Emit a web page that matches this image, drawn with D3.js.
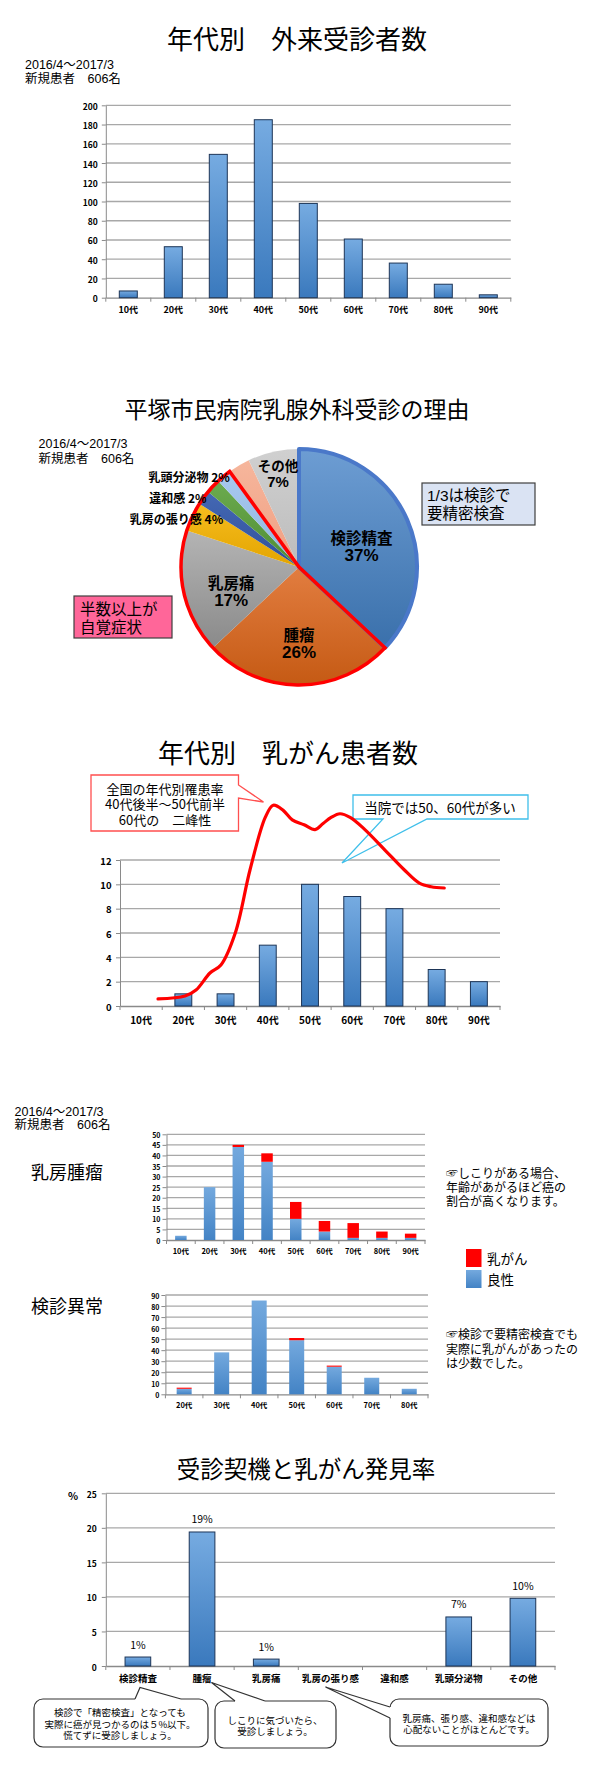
<!DOCTYPE html>
<html><head><meta charset="utf-8">
<script src="https://d3js.org/d3.v7.min.js"></script>
<style>
html,body{margin:0;padding:0;background:#fff;}
svg{display:block;}
</style></head><body>
<svg id="c" width="600" height="1773" viewBox="0 0 600 1773"></svg>
<script>
// ===== DATA =====
const ageGroups = ["10代","20代","30代","40代","50代","60代","70代","80代","90代"];
const outpatientCounts = [7, 53, 149, 185, 98, 61, 36, 14, 3];
const outpatientTicks = [0,20,40,60,80,100,120,140,160,180,200];

const reasonNames = ["検診精査","腫瘤","乳房痛","乳房の張り感","違和感","","乳頭分泌物","","その他"];
const reasonPercents = [37, 26, 17, 4, 2, 2, 2, 3, 7];

const cancerCounts = [0, 1, 1, 5, 10, 9, 8, 3, 2];
const cancerTicks = [0,2,4,6,8,10,12];
const nationalAge  = [19, 25.4, 28, 31.3, 33.9, 37.3, 40.8, 44.4, 46.3, 48.6, 50.8, 53.6, 56.2, 58.1, 60, 62.1, 64.5, 68, 72.8, 77.3, 80.9, 83.7, 86.8];
const nationalRate = [0.58, 0.82, 1.31, 2.71, 3.37, 6.0, 11.2, 15.5, 16.5, 16.1, 15.3, 14.9, 14.5, 15.0, 15.5, 15.8, 15.5, 14.5, 12.8, 11.2, 10.1, 9.8, 9.7];

const massBenign = [2, 25, 44, 37, 10, 4, 1, 1, 1];
const massCancer = [0, 0, 1, 4, 8, 5, 7, 3, 2];
const massTicks = [0,5,10,15,20,25,30,35,40,45,50];

const screenAgeGroups = ["20代","30代","40代","50代","60代","70代","80代"];
const screenBenign = [5, 38, 85, 49, 25, 15, 5];
const screenCancer = [1, 0, 0, 2, 1, 0, 0];
const screenTicks = [0,10,20,30,40,50,60,70,80,90];

const triggerNames = ["検診精査","腫瘤","乳房痛","乳房の張り感","違和感","乳頭分泌物","その他"];
const detectionRates = [1.3, 19.4, 1.0, 0, 0, 7.1, 9.8];
const detectionLabels = ["1%","19%","1%","","","7%","10%"];
const detectionTicks = [0,5,10,15,20,25];

// ===== STYLE CONFIG =====
const FONT = '"Noto Sans CJK JP","Noto Sans",sans-serif';
const LFONT = '"Liberation Sans","Noto Sans CJK JP",sans-serif';
const sliceTop = ["#6d9dd3","#e27d40","#b4b4b4","#f6bd1f","#4468b4","#6cab4f","#a9c9ee","#f6b69c","#d0d0d0"];
const sliceBot = ["#3a70ab","#c55a14","#8a8a8a","#e3a400","#30509a","#4e8c33","#8fb5e2","#ef9f82","#bcbcbc"];

const svg = d3.select("#c");
svg.append("rect").attr("width",600).attr("height",1773).attr("fill","#fff");
const defs = svg.append("defs");
function grad(id, c0, c1){
  const g = defs.append("linearGradient").attr("id",id).attr("x1",0).attr("y1",0).attr("x2",0).attr("y2",1);
  g.append("stop").attr("offset",0).attr("stop-color",c0);
  g.append("stop").attr("offset",1).attr("stop-color",c1);
}
grad("barG","#76abe1","#3a79bd");
grad("stkG","#74a9de","#4383c5");
sliceTop.forEach((c,i)=>grad("pie"+i, c, sliceBot[i]));

// single-line or multi-line text block (one <text>, one <tspan> per line)
function block(x, ys, lines, size, o = {}) {
  const t = svg.append("text").attr("font-family",o.font||FONT).attr("font-size",size)
    .attr("font-weight",o.bold?"bold":"normal").attr("text-anchor",o.anchor||"start")
    .attr("fill",o.fill||"#000");
  [].concat(lines).forEach((s,i)=>{
    const sp = t.append("tspan").attr("x",x).attr("y",[].concat(ys)[i]).attr("dominant-baseline","central").text(s);
    if (o.sizes) sp.attr("font-size",o.sizes[i]);
    if (o.fonts) sp.attr("font-family",o.fonts[i]);
  });
  return t;
}

function frame(cfg) {
  const {cats,x0,x1,yTop,yBot,ticks,tickSize,xSize,xGap,yGap} = cfg;
  const x = d3.scaleBand().domain(cats).range([x0,x1]).paddingInner(0.6).paddingOuter(0.3);
  const y = d3.scaleLinear().domain([0, d3.max(ticks)]).range([yBot,yTop]);
  const g = svg.append("g");
  g.selectAll(".grid").data(ticks.filter(t=>t>0)).join("line").attr("class","grid")
    .attr("x1",x0).attr("x2",x1).attr("y1",d=>y(d)).attr("y2",d=>y(d))
    .attr("stroke","#a8a8a8").attr("stroke-width",1.3);
  const ya = g.append("g").attr("transform",`translate(${x0},0)`)
    .call(d3.axisLeft(y).tickValues(ticks).tickSize(4).tickSizeOuter(0).tickPadding(yGap));
  ya.select(".domain").attr("stroke","#8a8a8a");
  ya.selectAll(".tick line").attr("stroke","#8a8a8a");
  ya.selectAll(".tick text").attr("font-family",FONT).attr("font-size",tickSize).attr("font-weight","bold")
    .attr("fill","#000").attr("dy",null).attr("dominant-baseline","central");
  const xa = g.append("g").attr("transform",`translate(0,${yBot})`)
    .call(d3.axisBottom(x).tickSize(0).tickSizeOuter(0).tickPadding(0));
  xa.select(".domain").attr("stroke","#8a8a8a").attr("stroke-width",1.3);
  xa.selectAll(".tick text").attr("font-family",FONT).attr("font-size",xSize).attr("font-weight","bold")
    .attr("fill","#000").attr("dy",null).attr("y",xGap).attr("dominant-baseline","central");
  g.selectAll(".btick").data(d3.range(cats.length+1)).join("line").attr("class","btick")
    .attr("x1",i=>x0 + i*x.step()).attr("x2",i=>x0 + i*x.step())
    .attr("y1",yBot).attr("y2",yBot+4).attr("stroke","#8a8a8a");
  const bars = svg.append("g");
  return {x,y,g,bars};
}

// ===== CHART 1 =====
block(297, 37, "年代別　外来受診者数", 26, {anchor:"middle"});
block(25, [65,79], ["2016/4～2017/3","新規患者　606名"], 12.5, {font:LFONT});
const c1 = frame({cats:ageGroups, x0:105.8, x1:510.8, yTop:105.3, yBot:297.7, ticks:outpatientTicks, tickSize:8.5, xSize:9, xGap:11.5, yGap:4});
c1.bars.selectAll("rect").data(outpatientCounts).join("rect")
  .attr("x",(d,i)=>c1.x(ageGroups[i])).attr("width",c1.x.bandwidth())
  .attr("y",d=>c1.y(d)).attr("height",d=>c1.y(0)-c1.y(d))
  .attr("fill","url(#barG)").attr("stroke","#1d3557").attr("stroke-width",1);

// ===== CHART 2 (pie) =====
block(297, 408, "平塚市民病院乳腺外科受診の理由", 23, {anchor:"middle"});
block(38.5, [444,459], ["2016/4～2017/3","新規患者　606名"], 12.5, {font:LFONT});
const pcx = 299, pcy = 567, PR = 118;
const pg = svg.append("g").attr("transform",`translate(${pcx},${pcy})`);
const arcs = d3.pie().sort(null).value(d=>d)(reasonPercents);
const arc = d3.arc().innerRadius(0).outerRadius(PR);
pg.selectAll("path.slice").data(arcs).join("path").attr("class","slice")
  .attr("d",arc).attr("fill",(d,i)=>`url(#pie${i})`);
pg.append("path").attr("d",arc(arcs[0])).attr("fill","none").attr("stroke","#4a78c9").attr("stroke-width",4).attr("stroke-linejoin","round");
pg.append("path").attr("d",arc({startAngle:arcs[1].startAngle,endAngle:arcs[6].endAngle,padAngle:0}))
  .attr("fill","none").attr("stroke","#ff0000").attr("stroke-width",3.5).attr("stroke-linejoin","miter");

const bigLabels = [{i:0,r:66,da:5,size:15.5,gap:9.5},{i:1,r:76,da:0,size:15.5,gap:9.5},{i:2,r:72,da:-7,size:15.5,gap:9.5},{i:8,r:96,da:0,size:13.5,gap:8.5}];
bigLabels.forEach(L=>{
  const a = (arcs[L.i].startAngle+arcs[L.i].endAngle)/2 + L.da*Math.PI/180;
  const x = pcx + L.r*Math.sin(a), y = pcy - L.r*Math.cos(a);
  block(x, [y-L.gap, y+L.gap], [reasonNames[L.i], reasonPercents[L.i]+"%"], L.size,
    {bold:true, anchor:"middle", sizes:[L.size, L.size+1.5], fonts:[FONT, LFONT]});
});
const smallLabels = [{i:3,dx:31,dy:2},{i:4,dx:3,dy:0},{i:6,dx:6,dy:0}];
smallLabels.forEach(L=>{
  const a = (arcs[L.i].startAngle+arcs[L.i].endAngle)/2;
  const x = pcx + PR*Math.sin(a) + L.dx, y = pcy - PR*Math.cos(a) + L.dy;
  block(x, y, reasonNames[L.i]+" "+reasonPercents[L.i]+"%", 12, {bold:true,anchor:"end"});
});
svg.append("rect").attr("x",422).attr("y",483).attr("width",113).attr("height",42)
  .attr("fill","#dae3f3").attr("stroke","#3f3f3f").attr("stroke-width",1.2);
block(427, [495,513], ["1/3は検診で","要精密検査"], 15.5, {font:LFONT});
svg.append("rect").attr("x",74).attr("y",596).attr("width",98).attr("height",42)
  .attr("fill","#ff6699").attr("stroke","#3f3f3f").attr("stroke-width",1.2);
block(80, [609,627], ["半数以上が","自覚症状"], 15.5, {font:LFONT});

// ===== CHART 3 =====
block(288, 751, "年代別　乳がん患者数", 26, {anchor:"middle"});
const c3 = frame({cats:ageGroups, x0:120, x1:500, yTop:860, yBot:1006, ticks:cancerTicks, tickSize:9.5, xSize:10, xGap:13, yGap:4.5});
c3.bars.selectAll("rect").data(cancerCounts).join("rect")
  .attr("x",(d,i)=>c3.x(ageGroups[i])).attr("width",c3.x.bandwidth())
  .attr("y",d=>c3.y(d)).attr("height",d=>c3.y(0)-c3.y(d))
  .attr("fill","url(#barG)").attr("stroke","#1d3557").attr("stroke-width",d=>d>0?1:0);
svg.append("path").attr("d","M91,775H238.5V785L263.5,802L238.5,798V831H91Z")
  .attr("fill","#fff").attr("stroke","#ff4f4f").attr("stroke-width",1.3);
block(165, [788,803.5,819], ["全国の年代別罹患率","40代後半～50代前半","60代の　二峰性"], 13, {anchor:"middle"});
svg.append("path").attr("d","M353,795H528V819H427L342,863L383,819H353Z")
  .attr("fill","#fff").attr("stroke","#3fbfea").attr("stroke-width",1.3);
block(440, 807, "当院では50、60代が多い", 13.5, {anchor:"middle"});
const bw3 = c3.x.bandwidth()/2;
const ageX = d3.scaleLinear().domain([15,95]).range([c3.x(ageGroups[0])+bw3, c3.x(ageGroups[8])+bw3]);
svg.append("path").datum(nationalRate)
  .attr("d", d3.line().x((d,i)=>ageX(nationalAge[i])).y(d=>c3.y(d)).curve(d3.curveCatmullRom.alpha(0.5)))
  .attr("fill","none").attr("stroke","#ff0000").attr("stroke-width",3.2).attr("stroke-linecap","round");

// ===== CHART 4 =====
block(14.6, [1112,1125], ["2016/4～2017/3","新規患者　606名"], 12.5, {font:LFONT});
block(31, 1171, "乳房腫瘤", 18);
const c4 = frame({cats:ageGroups, x0:166.5, x1:425, yTop:1134.3, yBot:1240, ticks:massTicks, tickSize:7, xSize:7.5, xGap:10, yGap:2});
c4.bars.selectAll("rect.b").data(massBenign).join("rect").attr("class","b")
  .attr("x",(d,i)=>c4.x(ageGroups[i])).attr("width",c4.x.bandwidth())
  .attr("y",d=>c4.y(d)).attr("height",d=>c4.y(0)-c4.y(d)).attr("fill","url(#stkG)");
c4.bars.selectAll("rect.c").data(massCancer).join("rect").attr("class","c")
  .attr("x",(d,i)=>c4.x(ageGroups[i])).attr("width",c4.x.bandwidth())
  .attr("y",(d,i)=>c4.y(d+massBenign[i])).attr("height",(d,i)=>c4.y(massBenign[i])-c4.y(d+massBenign[i])).attr("fill","#ff0000");
block(446, [1172,1186,1200], ["☞しこりがある場合、","年齢があがるほど癌の","割合が高くなります。"], 12);
svg.append("rect").attr("x",466).attr("y",1249).attr("width",15.5).attr("height",18).attr("fill","#ff0000");
svg.append("rect").attr("x",466).attr("y",1270).attr("width",15.5).attr("height",18).attr("fill","url(#stkG)");
block(487, [1258,1279], ["乳がん","良性"], 13.5);

// ===== CHART 5 =====
block(31, 1305, "検診異常", 18);
const c5 = frame({cats:screenAgeGroups, x0:165.4, x1:428, yTop:1295, yBot:1394.3, ticks:screenTicks, tickSize:7, xSize:7.5, xGap:10, yGap:2});
c5.bars.selectAll("rect.b").data(screenBenign).join("rect").attr("class","b")
  .attr("x",(d,i)=>c5.x(screenAgeGroups[i])).attr("width",c5.x.bandwidth())
  .attr("y",d=>c5.y(d)).attr("height",d=>c5.y(0)-c5.y(d)).attr("fill","url(#stkG)");
c5.bars.selectAll("rect.c").data(screenCancer).join("rect").attr("class","c")
  .attr("x",(d,i)=>c5.x(screenAgeGroups[i])).attr("width",c5.x.bandwidth())
  .attr("y",(d,i)=>c5.y(d+screenBenign[i])).attr("height",(d,i)=>c5.y(screenBenign[i])-c5.y(d+screenBenign[i])).attr("fill","#ff0000");
block(446, [1333,1348,1362], ["☞検診で要精密検査でも","実際に乳がんがあったの","は少数でした。"], 12);

// ===== CHART 6 =====
block(306, 1468, "受診契機と乳がん発見率", 23.5, {anchor:"middle"});
block(73, 1495, "%", 10.5, {bold:true, anchor:"middle"});
const c6 = frame({cats:triggerNames, x0:105.8, x1:555, yTop:1493.3, yBot:1666, ticks:detectionTicks, tickSize:8.5, xSize:9.5, xGap:11.7, yGap:5});
c6.bars.selectAll("rect").data(detectionRates).join("rect")
  .attr("x",(d,i)=>c6.x(triggerNames[i])).attr("width",c6.x.bandwidth())
  .attr("y",d=>c6.y(d)).attr("height",d=>c6.y(0)-c6.y(d))
  .attr("fill","url(#barG)").attr("stroke","#1d3557").attr("stroke-width",d=>d>0?1:0);
c6.bars.selectAll("text").data(detectionRates).join("text")
  .attr("x",(d,i)=>c6.x(triggerNames[i])+c6.x.bandwidth()/2).attr("y",d=>c6.y(d)-13)
  .attr("text-anchor","middle").attr("dominant-baseline","central")
  .attr("font-family",FONT).attr("font-size",10.5).text((d,i)=>detectionLabels[i]);

function callout(x,y,w,h,b1,b2,tip,lines,tx,ys){
  svg.append("rect").attr("x",x).attr("y",y).attr("width",w).attr("height",h).attr("rx",9)
    .attr("fill","#fff").attr("stroke","#333").attr("stroke-width",1.2);
  svg.append("path").attr("d",`M${b1}L${tip}L${b2}Z`).attr("fill","#fff");
  svg.append("line").attr("x1",b1[0]).attr("y1",b1[1]).attr("x2",b2[0]).attr("y2",b2[1])
    .attr("stroke","#fff").attr("stroke-width",2.6);
  svg.append("path").attr("d",`M${b1}L${tip}L${b2}`).attr("fill","none").attr("stroke","#333").attr("stroke-width",1.2);
  block(tx, ys, lines, 9.5, {anchor:"middle"});
}
callout(34,1699,174,48,[135,1699],[181,1699],[140,1687.5],
  ["検診で「精密検査」となっても","実際に癌が見つかるのは５%以下。","慌てずに受診しましょう。"],120,[1712,1723.5,1735]);
callout(215,1701,121,47,[235,1701],[265,1701],[211.5,1682.5],
  ["しこりに気づいたら、","受診しましょう。"],275,[1720,1731]);
callout(390,1699,158,47,[390,1707],[390,1718],[325.5,1687],
  ["乳房痛、張り感、違和感などは","心配ないことがほとんどです。"],469,[1717.5,1728.5]);
</script>
</body></html>
